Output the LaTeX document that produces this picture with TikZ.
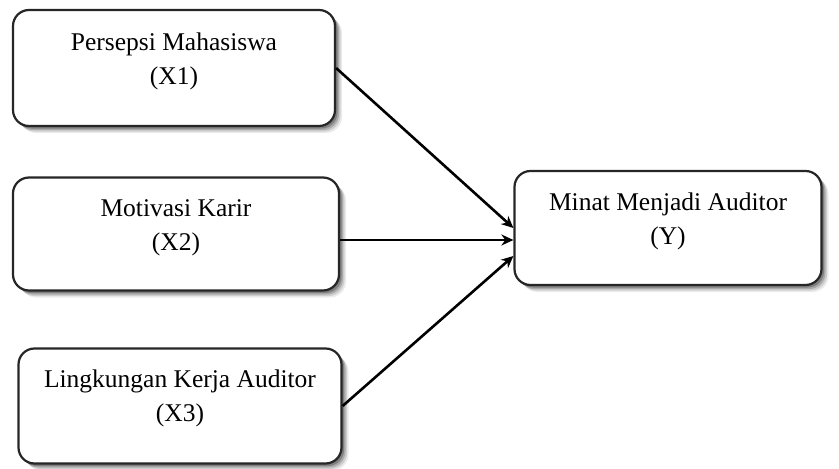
\documentclass[tikz,border=0pt]{standalone}
\usepackage{fontspec}
\setmainfont{Liberation Serif}
\usetikzlibrary{shadows,arrows.meta,calc}
\begin{document}
\begin{tikzpicture}[x=1pt,y=-1pt,
  softshadow/.style={
    drop shadow={shadow xshift=7pt, shadow yshift=-7pt, opacity=0.08, fill=black},
    drop shadow={shadow xshift=5.5pt, shadow yshift=-5.5pt, opacity=0.12, fill=black},
    drop shadow={shadow xshift=4pt, shadow yshift=-4pt, opacity=0.18, fill=black},
    drop shadow={shadow xshift=2.5pt, shadow yshift=-2.5pt, opacity=0.25, fill=black}},
  varbox/.style={draw=black!85, line width=2.2pt, rounded corners=16pt, fill=white, softshadow},
  vartext/.style={align=center, font=\fontsize{25.5}{34}\selectfont, inner sep=0pt},
  link/.style={line width=2.6pt, -{Stealth[length=12pt,width=11pt]}}]
\useasboundingbox (0,0) rectangle (839,469);
% variable boxes
\node[varbox, minimum width=322pt, minimum height=116pt] (b1) at (174,68) {};
\node[varbox, minimum width=326pt, minimum height=113pt] (b2) at (176,234) {};
\node[varbox, minimum width=323pt, minimum height=115pt] (b3) at (180,406) {};
\node[varbox, minimum width=307pt, minimum height=114pt] (by) at (668,228) {};
% labels
\node[vartext] (t1) at ($(b1.center)+(0,-7)$) {Persepsi Mahasiswa\\(X1)};
\node[vartext] (t2) at ($(b2.center)+(0,-6)$) {Motivasi Karir\\(X2)};
\node[vartext] (t3) at ($(b3.center)+(0,-8)$) {Lingkungan Kerja Auditor\\(X3)};
\node[vartext] (ty) at ($(by.center)+(0,-7)$) {Minat Menjadi Auditor\\(Y)};
% arrow targets on the dependent box
\coordinate (e1) at ($(by.west)+(0,0)$);
\coordinate (e2) at ($(by.west)+(0,12)$);
\coordinate (e3) at ($(by.west)+(0,28)$);
\coordinate (s2) at ($(b2.east)+(0,6)$);
% connectors
\draw[link] (b1.east) -- (e1);
\draw[link] (s2) -- (e2);
\draw[link] (b3.east) -- (e3);
\end{tikzpicture}
\end{document}
